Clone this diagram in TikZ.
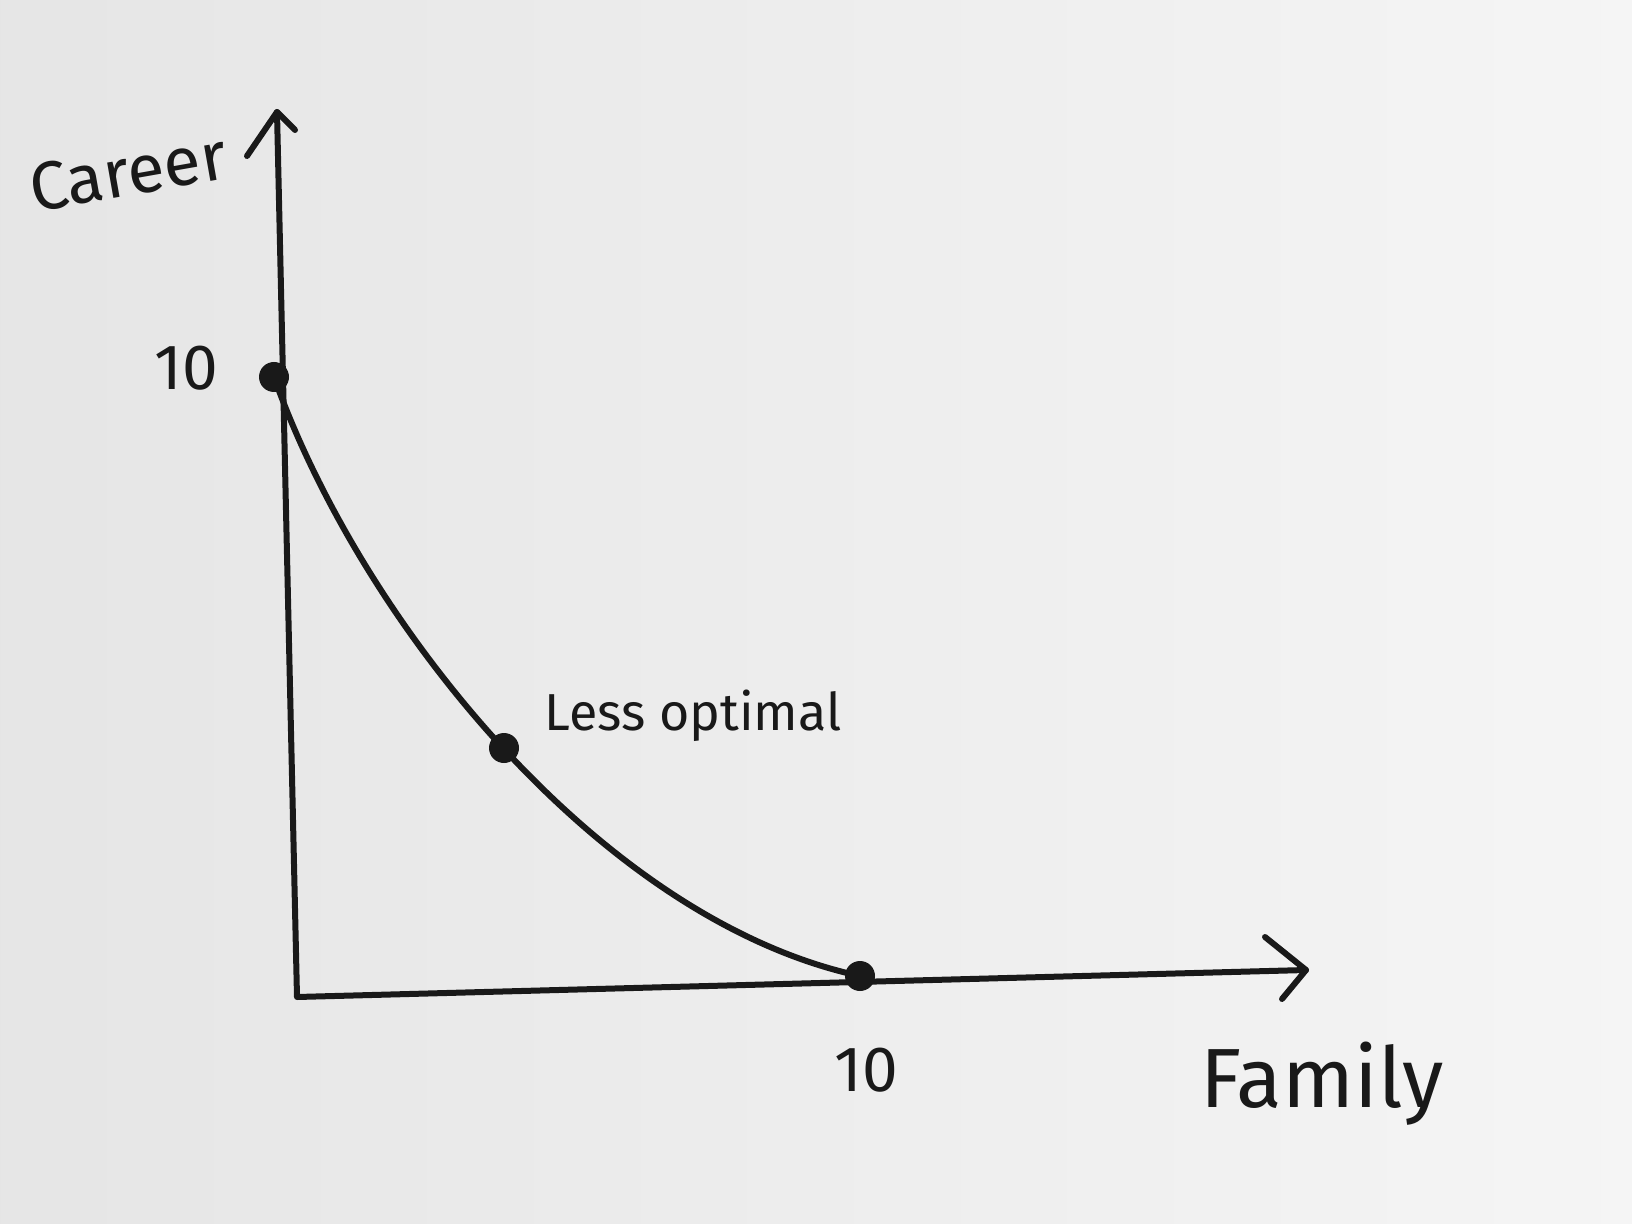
\documentclass[tikz,border=0pt]{standalone}
\usepackage{fontspec}
\setmainfont{Fira Sans}
\begin{document}
\begin{tikzpicture}[x=0.5pt,y=-0.5pt,
  ink/.style={draw=black!90, line width=3pt, line cap=round, line join=round},
  dot/.style={circle, fill=black!90, inner sep=0pt, minimum size=15pt},
  hand/.style={text=black!90, inner sep=0pt}]
\shade[left color=black!10, right color=black!4] (0,0) rectangle (1632,1224);
\useasboundingbox (0,0) rectangle (1632,1224);
% axes
\coordinate (ytop) at (277,112);
\coordinate (org) at (297,997);
\coordinate (xend) at (1306,970);
\coordinate (yh1) at (247,156);
\coordinate (yh2) at (295,130);
\coordinate (xh1) at (1265,937);
\coordinate (xh2) at (1282,999);
\draw[ink] (ytop) -- (org) -- (xend);
\draw[ink] (yh1) -- (ytop) -- (yh2);
\draw[ink] (xh1) -- (xend) -- (xh2);
% curve
\node[dot] (p1) at (274,377) {};
\node[dot] (p2) at (504,748) {};
\node[dot] (p3) at (860,976) {};
\draw[ink] (p1.center) .. controls (360,620) and (600,920) .. (p3.center);
% labels
\node[hand, font=\fontsize{34}{34}\selectfont, rotate=10] (career) at (128,172) {Career};
\node[hand, font=\fontsize{32}{32}\selectfont] (ten1) at (186,368) {10};
\node[hand, font=\fontsize{26}{26}\selectfont] (less) at (693,716) {Less optimal};
\node[hand, font=\fontsize{32}{32}\selectfont] (ten2) at (866,1070) {10};
\node[hand, font=\fontsize{42}{42}\selectfont] (family) at (1322,1084) {Family};
\end{tikzpicture}
\end{document}
